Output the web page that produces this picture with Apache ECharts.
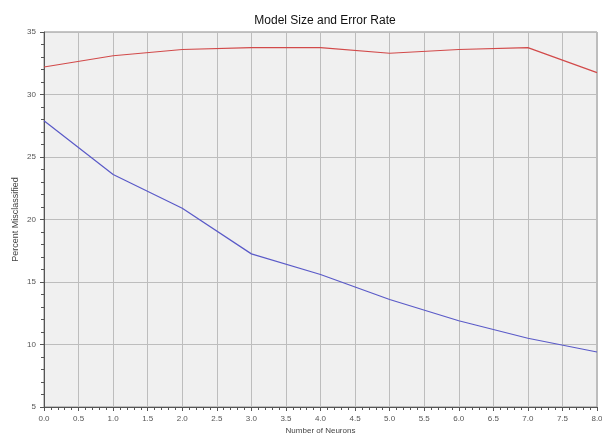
<!DOCTYPE html>
<html><head><meta charset="utf-8">
<script src="https://cdn.jsdelivr.net/npm/echarts@6/dist/echarts.min.js"></script>
<style>html,body{margin:0;padding:0;background:#fff}#c{width:602px;height:436px}</style>
</head><body><div id="c"></div>
<script>
var neurons = [0, 1, 2, 3, 4, 5, 6, 7, 8];
var modelSize = [32.2, 33.1, 33.6, 33.75, 33.75, 33.3, 33.6, 33.75, 31.75];
var errorRate = [27.9, 23.6, 20.9, 17.25, 15.6, 13.6, 11.9, 10.5, 9.4];
var xTicks = [0, 0.5, 1, 1.5, 2, 2.5, 3, 3.5, 4, 4.5, 5, 5.5, 6, 6.5, 7, 7.5, 8];
var yTicks = [5, 10, 15, 20, 25, 30, 35];

function pairs(xs, ys){ return xs.map(function(x,i){ return [x, ys[i]]; }); }

var chart = echarts.init(document.getElementById('c'), null, {renderer:'canvas'});
chart.setOption({
  animation: false,
  title: {
    text: 'Model Size and Error Rate', left: 320, top: 10, textAlign: 'center',
    textStyle: {fontFamily: 'Liberation Sans', fontSize: 12, fontWeight: 'normal', color: '#111'}
  },
  grid: {left: 44, right: 5, top: 32, bottom: 29, containLabel: false, outerBoundsMode: 'none', show: true, backgroundColor: '#f0f0f0', borderColor: '#8a8a8a', borderWidth: 1},
  xAxis: {
    type: 'value', min: xTicks[0], max: xTicks[xTicks.length-1], interval: 0.5,
    name: 'Number of Neurons', nameLocation: 'middle', nameGap: 20, nameMoveOverlap: false,
    nameTextStyle: {fontFamily: 'Liberation Sans', fontSize: 8, color: '#444'},
    axisLine: {lineStyle: {color: '#555'}},
    axisTick: {show: true, length: 4, lineStyle: {color: '#555'}},
    minorTick: {show: true, splitNumber: 5, length: 3, lineStyle: {color: '#555'}},
    axisLabel: {fontFamily: 'Liberation Sans', fontSize: 8, color: '#555', margin: 8, formatter: function(v){ return v.toFixed(1); }},
    splitLine: {show: true, lineStyle: {color: '#bdbdbd', width: 1}}
  },
  yAxis: {
    type: 'value', min: yTicks[0], max: yTicks[yTicks.length-1], interval: 5,
    name: 'Percent Misclassified', nameLocation: 'middle', nameGap: 24, nameMoveOverlap: false,
    nameTextStyle: {fontFamily: 'Liberation Sans', fontSize: 9, color: '#444'},
    axisLine: {show: true, lineStyle: {color: '#555'}},
    axisTick: {show: true, length: 4, lineStyle: {color: '#555'}},
    minorTick: {show: true, splitNumber: 5, length: 3, lineStyle: {color: '#555'}},
    axisLabel: {fontFamily: 'Liberation Sans', fontSize: 8, color: '#555', margin: 8},
    splitLine: {show: true, lineStyle: {color: '#bdbdbd', width: 1}}
  },
  series: [
    {type: 'line', data: pairs(neurons, modelSize), symbol: 'none', lineStyle: {color: '#d24a4a', width: 1.2}},
    {type: 'line', data: pairs(neurons, errorRate), symbol: 'none', lineStyle: {color: '#5a5ac8', width: 1.2}}
  ]
});
</script></body></html>
